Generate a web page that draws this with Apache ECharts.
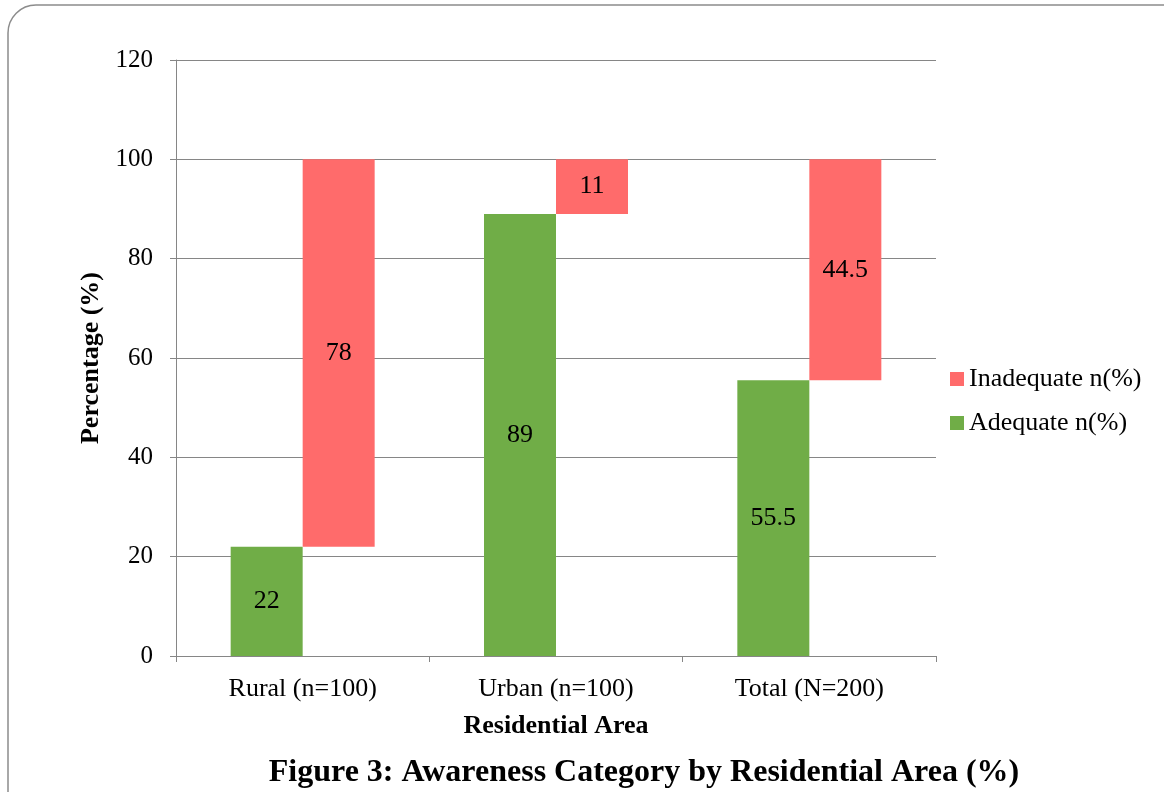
<!DOCTYPE html>
<html>
<head>
<meta charset="utf-8">
<script src="https://cdn.jsdelivr.net/npm/echarts@6/dist/echarts.min.js"></script>
<style>
  html, body { margin: 0; padding: 0; background: #fff; }
  #chart { width: 1164px; height: 792px; }
</style>
</head>
<body>
<div id="chart"></div>
<script>
  var categories = ["Rural (n=100)", "Urban (n=100)", "Total (N=200)"];
  var adequate = [22, 89, 55.5];
  var inadequate = [78, 11, 44.5];
  var yTicks = { min: 0, max: 120, interval: 20 };

  var font = "'Liberation Serif', 'DejaVu Serif', serif";
  var axisGray = "#868686";

  var chart = echarts.init(document.getElementById("chart"));

  var option = {
    backgroundColor: "#fff",
    textStyle: { fontFamily: font, color: "#000" },
    animation: false,
    grid: { left: 176, right: 228, top: 60, bottom: 136 },
    legend: {
      orient: "vertical",
      left: 945,
      top: 361,
      itemWidth: 14,
      itemHeight: 14,
      itemGap: 18,
      icon: "rect",
      data: ["Inadequate n(%)", "Adequate n(%)"],
      textStyle: { fontFamily: font, fontSize: 26, color: "#000" }
    },
    xAxis: {
      type: "category",
      data: categories,
      name: "Residential Area",
      nameLocation: "middle",
      nameGap: 57,
      nameTextStyle: { fontFamily: font, fontSize: 26, fontWeight: "bold", color: "#000" },
      axisLine: { lineStyle: { color: axisGray } },
      axisTick: { show: true, length: 6, lineStyle: { color: axisGray } },
      axisLabel: { margin: 20, fontFamily: font, fontSize: 26, color: "#000" }
    },
    yAxis: {
      type: "value",
      min: yTicks.min,
      max: yTicks.max,
      interval: yTicks.interval,
      name: "Percentage (%)",
      nameLocation: "middle",
      nameGap: 68,
      nameRotate: 90,
      nameTextStyle: { fontFamily: font, fontSize: 26, fontWeight: "bold", color: "#000" },
      axisLine: { show: true, lineStyle: { color: axisGray } },
      axisTick: { show: true, length: 6, lineStyle: { color: axisGray } },
      axisLabel: { margin: 23, fontFamily: font, fontSize: 25, color: "#000" },
      splitLine: { lineStyle: { color: axisGray } }
    },
    series: [
      {
        name: "Adequate n(%)",
        type: "bar",
        data: adequate,
        barWidth: 72,
        barGap: "0%",
        itemStyle: { color: "#70ad47" },
        label: { show: true, position: "inside", fontFamily: font, fontSize: 26, color: "#000" }
      },
      {
        name: "base",
        type: "bar",
        stack: "inad",
        data: adequate,
        barWidth: 72,
        silent: true,
        itemStyle: { color: "rgba(0,0,0,0)" },
        label: { show: false }
      },
      {
        name: "Inadequate n(%)",
        type: "bar",
        stack: "inad",
        data: inadequate,
        barWidth: 72,
        itemStyle: { color: "#ff6b6b" },
        label: { show: true, position: "inside", fontFamily: font, fontSize: 26, color: "#000" }
      }
    ],
    graphic: [
      {
        type: "rect",
        shape: { x: 8, y: 5, width: 1250, height: 860, r: 28 },
        style: { fill: "none", stroke: "#8c8c8c", lineWidth: 1.5 },
        silent: true
      },
      {
        type: "text",
        x: 644,
        y: 773,
        style: {
          text: "Figure 3: Awareness Category by Residential Area (%)",
          fontFamily: font,
          fontSize: 32,
          fontWeight: "bold",
          fill: "#000",
          align: "center",
          verticalAlign: "middle"
        }
      }
    ]
  };

  chart.setOption(option);
</script>
</body>
</html>
